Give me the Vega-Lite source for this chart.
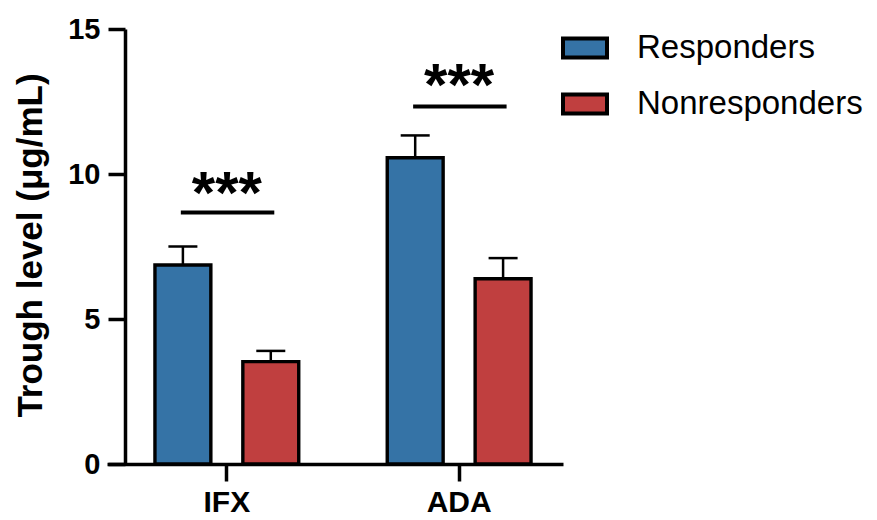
{
  "$schema": "https://vega.github.io/schema/vega-lite/v6.json",
  "autosize": {"type": "none"},
  "width": 456,
  "height": 435,
  "padding": {"left": 107, "top": 29, "right": 314, "bottom": 56},
  "background": "white",
  "config": {
    "view": {"stroke": null},
    "font": "Liberation Sans"
  },
  "datasets": {
    "bars": [
      {"drug": "IFX", "group": "Responders", "value": 6.86, "upper": 7.50},
      {"drug": "IFX", "group": "Nonresponders", "value": 3.53, "upper": 3.90},
      {"drug": "ADA", "group": "Responders", "value": 10.56, "upper": 11.33},
      {"drug": "ADA", "group": "Nonresponders", "value": 6.39, "upper": 7.10}
    ],
    "sig": [
      {"drug": "IFX", "line": 8.67, "star": 8.66, "label": "***"},
      {"drug": "ADA", "line": 12.33, "star": 12.37, "label": "***"}
    ]
  },
  "encoding": {
    "x": {
      "field": "drug",
      "type": "nominal",
      "sort": ["IFX", "ADA"],
      "scale": {"paddingInner": 0.381, "paddingOuter": 0.172, "align": 0.6},
      "axis": {
        "title": null,
        "labelAngle": 0,
        "labelFont": "Liberation Sans",
        "labelFontWeight": "bold",
        "labelFontSize": 30,
        "labelColor": "black",
        "labelPadding": 6,
        "domainColor": "black",
        "domainWidth": 3.5,
        "tickColor": "black",
        "tickWidth": 3.5,
        "tickSize": 17
      }
    }
  },
  "layer": [
    {
      "data": {"name": "bars"},
      "mark": {"type": "rule", "color": "black", "strokeWidth": 2.5},
      "encoding": {
        "xOffset": {"field": "group", "type": "nominal", "sort": ["Responders", "Nonresponders"], "scale": {"paddingInner": 0.364, "paddingOuter": 0}},
        "y": {"field": "value", "type": "quantitative"},
        "y2": {"field": "upper"}
      }
    },
    {
      "data": {"name": "bars"},
      "mark": {"type": "tick", "color": "black", "thickness": 2.5, "size": 29, "opacity": 1},
      "encoding": {
        "xOffset": {"field": "group", "type": "nominal", "sort": ["Responders", "Nonresponders"], "scale": {"paddingInner": 0.364, "paddingOuter": 0}},
        "y": {"field": "upper", "type": "quantitative"}
      }
    },
    {
      "data": {"name": "bars"},
      "mark": {"type": "bar", "stroke": "black", "strokeWidth": 3.4, "fillOpacity": 1},
      "encoding": {
        "xOffset": {"field": "group", "type": "nominal", "sort": ["Responders", "Nonresponders"], "scale": {"paddingInner": 0.364, "paddingOuter": 0}},
        "y": {
          "field": "value",
          "type": "quantitative",
          "scale": {"domain": [0, 15], "nice": false},
          "axis": {
            "title": "Trough level (μg/mL)",
            "titleFont": "Liberation Sans",
            "titleFontSize": 35,
            "titleFontWeight": "bold",
            "titleColor": "black",
            "titlePadding": 19,
            "titleY": 216,
            "values": [0, 5, 10, 15],
            "grid": false,
            "offset": -18,
            "labelFont": "Liberation Sans",
            "labelFontWeight": "bold",
            "labelFontSize": 29,
            "labelColor": "black",
            "labelPadding": 8,
            "domainColor": "black",
            "domainWidth": 3.5,
            "tickColor": "black",
            "tickWidth": 3.5,
            "tickSize": 17
          }
        },
        "color": {
          "field": "group",
          "type": "nominal",
          "sort": ["Responders", "Nonresponders"],
          "scale": {"domain": ["Responders", "Nonresponders"], "range": ["#3573a6", "#c03f3f"]},
          "legend": {
            "title": null,
            "orient": "none",
            "legendX": 454,
            "legendY": -5,
            "padding": 0,
            "symbolType": "M-1,-0.43H1V0.43H-1Z",
            "symbolSize": 1936,
            "symbolStrokeColor": "black",
            "symbolStrokeWidth": 4,
            "symbolOpacity": 1,
            "symbolFillOpacity": 1,
            "labelFont": "Liberation Sans",
            "labelFontSize": 33,
            "labelColor": "black",
            "labelOffset": 28,
            "rowPadding": 14,
            "labelLimit": 400
          }
        }
      }
    },
    {
      "data": {"name": "sig"},
      "mark": {"type": "rule", "color": "black", "strokeWidth": 4},
      "encoding": {
        "x": {"field": "drug", "type": "nominal", "sort": ["IFX", "ADA"], "bandPosition": 0.18},
        "x2": {"field": "drug", "bandPosition": 0.83},
        "y": {"field": "line", "type": "quantitative"}
      }
    },
    {
      "data": {"name": "sig"},
      "mark": {"type": "text", "font": "Liberation Sans", "fontWeight": "bold", "fontSize": 60, "baseline": "alphabetic", "align": "center", "color": "black"},
      "encoding": {
        "x": {"field": "drug", "type": "nominal", "sort": ["IFX", "ADA"]},
        "y": {"field": "star", "type": "quantitative"},
        "text": {"field": "label"}
      }
    }
  ]
}
